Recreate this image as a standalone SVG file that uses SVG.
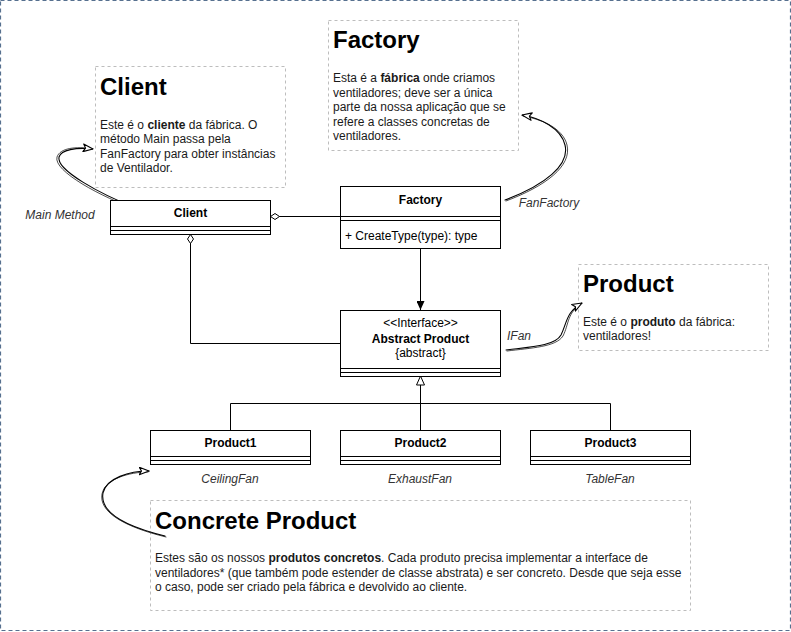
<svg xmlns="http://www.w3.org/2000/svg" width="791" height="632" viewBox="0 0 791 632">
<style>
.note{fill:#fff;stroke:#bdbdbd;stroke-width:1;stroke-dasharray:3 3}
.title{font-family:"Liberation Sans",Arial,sans-serif;font-size:24px;font-weight:bold;fill:#000}
.body{font-family:"Liberation Sans",Arial,sans-serif;font-size:12px;fill:#1a1a1a}
.cls{fill:#fff;stroke:#000;stroke-width:1}
.sep{stroke:#000;stroke-width:1;fill:none}
.cname{font-family:"Liberation Sans",Arial,sans-serif;font-size:12px;font-weight:bold;fill:#000;text-anchor:middle}
.ctext{font-family:"Liberation Sans",Arial,sans-serif;font-size:12px;fill:#000}
.lbl{font-family:"Liberation Sans",Arial,sans-serif;font-size:12px;font-style:italic;fill:#333;text-anchor:middle}
.edge{fill:none;stroke:#000;stroke-width:1}
.sk{fill:none;stroke:#000;stroke-width:1.1;stroke-linecap:round}
.sk2{fill:none;stroke:#000;stroke-width:0.7;stroke-linecap:round}
</style>
<defs>
<marker id="diamond" viewBox="0 0 10 7" refX="10" refY="3.5" markerWidth="10" markerHeight="7" orient="auto" markerUnits="userSpaceOnUse"><path d="M0.5,3.5 L5,0.5 L9.5,3.5 L5,6.5 Z" fill="#fff" stroke="#000"/></marker>
<marker id="block" viewBox="0 0 9 8" refX="9" refY="4" markerWidth="9" markerHeight="8" orient="auto" markerUnits="userSpaceOnUse"><path d="M0,0 L9,4 L0,8 Z" fill="#000"/></marker>
<marker id="tri" viewBox="0 0 10 9" refX="9.5" refY="4.5" markerWidth="10" markerHeight="9" orient="auto" markerUnits="userSpaceOnUse"><path d="M0.5,0.5 L9.5,4.5 L0.5,8.5 Z" fill="#fff" stroke="#000"/></marker>
<marker id="open" viewBox="0 0 11 9" refX="10.5" refY="4.5" markerWidth="11" markerHeight="9" orient="auto" markerUnits="userSpaceOnUse"><path d="M0.7,0.7 L10.5,4.5 L0.7,8.3 L3,4.5 Z" fill="#fff" stroke="#000" stroke-width="1.1" stroke-linejoin="round"/></marker>
</defs>

<rect x="0.5" y="0.5" width="790" height="630" fill="#fff" stroke="#56708f" stroke-width="1.2" stroke-dasharray="4 3"/>

<g id="note-client">
<rect class="note" x="95.5" y="66.5" width="190" height="121"/>
<text class="title" x="100" y="94.5">Client</text>
<text class="body" x="100" y="128.5">Este é o <tspan font-weight="bold">cliente</tspan> da fábrica. O</text>
<text class="body" x="100" y="143">método Main passa pela</text>
<text class="body" x="100" y="157.5">FanFactory para obter instâncias</text>
<text class="body" x="100" y="172">de Ventilador.</text>
</g>

<g id="note-factory">
<rect class="note" x="328.5" y="20.5" width="190" height="130"/>
<text class="title" x="333" y="48">Factory</text>
<text class="body" x="333" y="82">Esta é a <tspan font-weight="bold">fábrica</tspan> onde criamos</text>
<text class="body" x="333" y="96.5">ventiladores; deve ser a única</text>
<text class="body" x="333" y="111">parte da nossa aplicação que se</text>
<text class="body" x="333" y="125.5">refere a classes concretas de</text>
<text class="body" x="333" y="140">ventiladores.</text>
</g>

<g id="note-product">
<rect class="note" x="578.5" y="264.5" width="190" height="86"/>
<text class="title" x="583" y="291.5">Product</text>
<text class="body" x="583" y="325.5">Este é o <tspan font-weight="bold">produto</tspan> da fábrica:</text>
<text class="body" x="583" y="340">ventiladores!</text>
</g>

<g id="note-concrete">
<rect class="note" x="150.5" y="500.5" width="540" height="110"/>
<text class="title" x="155" y="528.5">Concrete Product</text>
<text class="body" x="155" y="562">Estes são os nossos <tspan font-weight="bold">produtos concretos</tspan>. Cada produto precisa implementar a interface de</text>
<text class="body" x="155" y="576.5">ventiladores* (que também pode estender de classe abstrata) e ser concreto. Desde que seja esse</text>
<text class="body" x="155" y="591">o caso, pode ser criado pela fábrica e devolvido ao cliente.</text>
</g>

<g id="connectors">
<path class="edge" d="M340,216.5 H270" marker-end="url(#diamond)"/>
<path class="edge" d="M340,343.5 H190.5 V234" marker-end="url(#diamond)"/>
<path class="edge" d="M420.5,249 V310" marker-end="url(#block)"/>
<path class="edge" d="M420.5,430 V376" marker-end="url(#tri)"/>
<path class="edge" d="M230.5,430 V403.5 H610.5 V430"/>
<path class="sk2" d="M138,210 C 101,197 53,171 57,157 C 60,148 76,146 92,149"/>
<path class="sk" d="M136,208 C 100,194 56,170 59,157 C 61,150 76,147 93,149" marker-end="url(#open)"/>
<path class="sk2" d="M506,201 C 546,186 572,166 567,145 C 563,128 541,119 523,116"/>
<path class="sk" d="M505,200 C 545,185 570,165 565,145 C 561,128 540,118 522,115" marker-end="url(#open)"/>
<path class="sk2" d="M507,351 C 531,348 556,347 563,336 C 569,324 567,313 581,304"/>
<path class="sk" d="M506,350 C 530,347 555,346 561,335 C 567,323 566,312 582,303" marker-end="url(#open)"/>
<path class="sk2" d="M166,537 C 121,526 99,511 102,494 C 105,479 129,472 148,472"/>
<path class="sk" d="M165,536 C 120,525 100,510 103,493 C 106,478 130,471 149,471" marker-end="url(#open)"/>
<text class="lbl" x="60" y="219">Main Method</text>
<text class="lbl" x="549" y="206.5">FanFactory</text>
<text class="lbl" x="519" y="340">IFan</text>
<text class="lbl" x="230" y="483">CeilingFan</text>
<text class="lbl" x="420" y="483">ExhaustFan</text>
<text class="lbl" x="610" y="483">TableFan</text>
</g>

<g id="class-client">
<rect class="cls" x="110.5" y="200.5" width="160" height="34"/>
<path class="sep" d="M110.5,226.5 H270.5 M110.5,230.5 H270.5"/>
<text class="cname" x="190.5" y="217">Client</text>
</g>

<g id="class-factory">
<rect class="cls" x="340.5" y="186.5" width="160" height="62"/>
<path class="sep" d="M340.5,216.5 H500.5 M340.5,220.5 H500.5"/>
<text class="cname" x="420.5" y="203.5">Factory</text>
<text class="ctext" x="345" y="240">+ CreateType(type): type</text>
</g>

<g id="class-abstract-product">
<rect class="cls" x="340.5" y="310.5" width="160" height="66"/>
<path class="sep" d="M340.5,368.5 H500.5 M340.5,372.5 H500.5"/>
<text class="ctext" x="420.5" y="327" text-anchor="middle" font-size="11.5">&lt;&lt;Interface&gt;&gt;</text>
<text class="cname" x="420.5" y="342.5">Abstract Product</text>
<text class="ctext" x="420.5" y="357" text-anchor="middle">{abstract}</text>
</g>

<g id="class-product1">
<rect class="cls" x="150.5" y="430.5" width="160" height="34"/>
<path class="sep" d="M150.5,456.5 H310.5 M150.5,460.5 H310.5"/>
<text class="cname" x="230.5" y="447">Product1</text>
</g>

<g id="class-product2">
<rect class="cls" x="340.5" y="430.5" width="160" height="34"/>
<path class="sep" d="M340.5,456.5 H500.5 M340.5,460.5 H500.5"/>
<text class="cname" x="420.5" y="447">Product2</text>
</g>

<g id="class-product3">
<rect class="cls" x="530.5" y="430.5" width="160" height="34"/>
<path class="sep" d="M530.5,456.5 H690.5 M530.5,460.5 H690.5"/>
<text class="cname" x="610.5" y="447">Product3</text>
</g>
</svg>
